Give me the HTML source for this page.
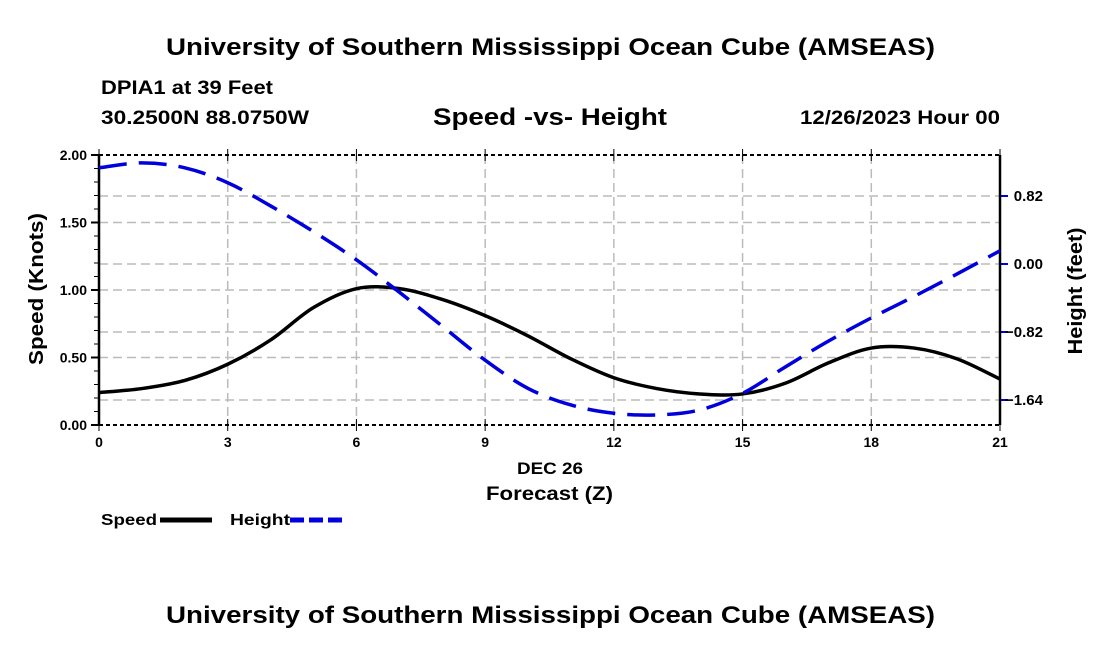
<!DOCTYPE html>
<html><head><meta charset="utf-8"><style>
body{margin:0;background:#fff;font-family:"Liberation Sans",sans-serif;}
svg text{font-family:"Liberation Sans",sans-serif;font-weight:bold;}
</style></head><body>
<svg id="c" width="1100" height="650">
<text x="166" y="55" font-size="24" textLength="769" lengthAdjust="spacingAndGlyphs">University of Southern Mississippi Ocean Cube (AMSEAS)</text>
<text x="101" y="94" font-size="19" textLength="172" lengthAdjust="spacingAndGlyphs">DPIA1 at 39 Feet</text>
<text x="101" y="124" font-size="19" textLength="208" lengthAdjust="spacingAndGlyphs">30.2500N  88.0750W</text>
<text x="433" y="125" font-size="24" textLength="234" lengthAdjust="spacingAndGlyphs">Speed -vs- Height</text>
<text x="800" y="124" font-size="19" textLength="200" lengthAdjust="spacingAndGlyphs">12/26/2023 Hour 00</text>
<g id="grid"></g><g id="axes"></g><g id="series"></g>
<text x="517" y="474" font-size="17" textLength="66" lengthAdjust="spacingAndGlyphs">DEC 26</text>
<text x="486" y="500" font-size="19" textLength="127" lengthAdjust="spacingAndGlyphs">Forecast (Z)</text>
<text transform="translate(43,289) rotate(-90)" text-anchor="middle" font-size="20" textLength="152" lengthAdjust="spacingAndGlyphs">Speed (Knots)</text>
<text transform="translate(1082,291) rotate(-90)" text-anchor="middle" font-size="20" textLength="127" lengthAdjust="spacingAndGlyphs">Height (feet)</text>
<g><text x="101" y="525" font-size="16" textLength="56" lengthAdjust="spacingAndGlyphs">Speed</text><line x1="160" y1="520" x2="212" y2="520" stroke="#000" stroke-width="5"/></g>
<g><text x="230" y="525" font-size="16" textLength="60" lengthAdjust="spacingAndGlyphs">Height</text><line x1="290" y1="520" x2="342" y2="520" stroke="#0000dd" stroke-width="5" stroke-dasharray="14,5"/></g>
<text x="166" y="623" font-size="24" textLength="769" lengthAdjust="spacingAndGlyphs">University of Southern Mississippi Ocean Cube (AMSEAS)</text>
</svg>
<script>
const hours=[0,1,2,3,4,5,6,7,8,9,10,11,12,13,14,15,16,17,18,19,20,21];
const speed=[0.24,0.27,0.33,0.45,0.63,0.87,1.01,1.01,0.93,0.81,0.66,0.49,0.35,0.27,0.23,0.23,0.31,0.46,0.57,0.57,0.49,0.34];
const height=[1.16,1.22,1.16,0.98,0.70,0.39,0.05,-0.34,-0.75,-1.16,-1.50,-1.70,-1.80,-1.82,-1.76,-1.56,-1.24,-0.93,-0.65,-0.39,-0.12,0.16];
const xTicks=[0,3,6,9,12,15,18,21];
const yTicks=[0,0.5,1.0,1.5,2.0];
const y2Ticks=[-1.64,-0.82,0.00,0.82];
const NS='http://www.w3.org/2000/svg';
const L=99,R=1000,T=155,B=425;
const x=h=>L+(R-L)*h/21;
const y=v=>B-(B-T)*v/2;
const y2=v=>264-v*68/0.82;
function mk(p,tag,a){const e=document.createElementNS(NS,tag);for(const k in a)e.setAttribute(k,a[k]);p.appendChild(e);return e;}
const grid=document.getElementById('grid'),axes=document.getElementById('axes'),ser=document.getElementById('series');
const gs={stroke:'#bbb','stroke-width':1.5,'stroke-dasharray':'9,5'};
xTicks.forEach(t=>{if(t>0&&t<21){const g=mk(grid,'line',Object.assign({x1:x(t),x2:x(t),y1:T,y2:B},gs));

}
const l=mk(axes,'text',{x:x(t),y:B+22,'text-anchor':'middle','font-size':14});l.textContent=t;


mk(axes,'line',{x1:x(t),x2:x(t),y1:B-6,y2:B+6,stroke:'#000'});mk(axes,'line',{x1:x(t),x2:x(t),y1:T-6,y2:T+6,stroke:'#000'});});
yTicks.forEach(t=>{if(t>0&&t<2){const g=mk(grid,'line',Object.assign({x1:L,x2:R,y1:y(t),y2:y(t)},gs));

}
const l=mk(axes,'text',{x:L-12,y:y(t)+5,'text-anchor':'end','font-size':14});l.textContent=t.toFixed(2);


mk(axes,'line',{x1:L-8,x2:L,y1:y(t),y2:y(t),stroke:'#000','stroke-width':2});});
for(let v=0.1;v<2;v+=0.1)mk(axes,'line',{x1:L-5,x2:L,y1:y(v),y2:y(v),stroke:'#000'});
y2Ticks.forEach(t=>{const g=mk(grid,'line',Object.assign({x1:L,x2:R,y1:y2(t),y2:y2(t)},gs));


mk(axes,'line',{x1:R,x2:R+8,y1:y2(t),y2:y2(t),stroke:'#0000dd','stroke-width':2});
const l=mk(axes,'text',{x:1043,y:y2(t)+5,'text-anchor':'end','font-size':15});l.textContent=t<0?'\u2212'+Math.abs(t).toFixed(2):t.toFixed(2);

});
mk(axes,'line',{x1:L,x2:R,y1:T,y2:T,stroke:'#000','stroke-width':2,'stroke-dasharray':'4,3'});
mk(axes,'line',{x1:L,x2:R,y1:B,y2:B,stroke:'#000','stroke-width':2,'stroke-dasharray':'4,3'});
mk(axes,'line',{x1:L,x2:L,y1:T,y2:B,stroke:'#000','stroke-width':2.5});
mk(axes,'line',{x1:R,x2:R,y1:T,y2:B,stroke:'#000','stroke-width':2.5});
function path(pts){let d='M'+pts[0][0]+','+pts[0][1];
for(let i=0;i<pts.length-1;i++){const p0=pts[i-1]||pts[i],p1=pts[i],p2=pts[i+1],p3=pts[i+2]||p2;
d+=' C'+(p1[0]+(p2[0]-p0[0])/6)+','+(p1[1]+(p2[1]-p0[1])/6)+' '+(p2[0]-(p3[0]-p1[0])/6)+','+(p2[1]-(p3[1]-p1[1])/6)+' '+p2[0]+','+p2[1];}return d;}
const sp=mk(ser,'path',{d:path(hours.map((h,i)=>[x(h),y(speed[i])])),fill:'none',stroke:'#000','stroke-width':3.5});


const hp=mk(ser,'path',{d:path(hours.map((h,i)=>[x(h),y2(height[i])])),fill:'none',stroke:'#0000dd','stroke-width':3.5,'stroke-dasharray':'28,12'});


</script>
</body></html>
